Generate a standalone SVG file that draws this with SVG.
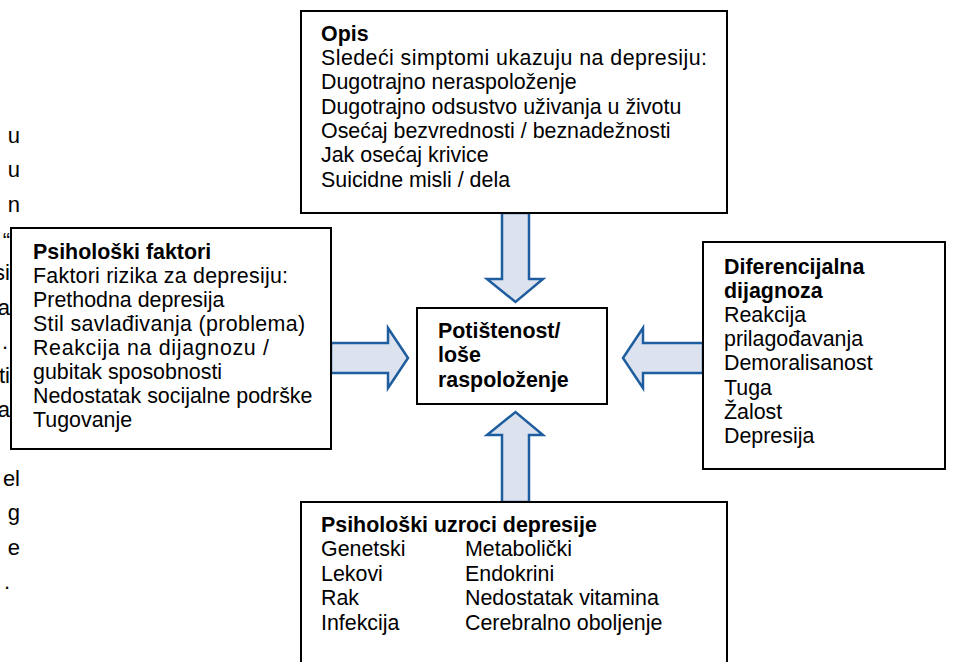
<svg xmlns="http://www.w3.org/2000/svg" width="955" height="662" viewBox="0 0 955 662">
<style>
text{font-family:"Liberation Sans",Arial,sans-serif;font-size:21.4px;fill:#000}
.b{font-weight:bold}
.f{font-size:22px}
.box{fill:#fff;stroke:#000;stroke-width:2}
.arr{fill:#dce3ef;stroke:#1f5e9e;stroke-width:2.5;stroke-linejoin:miter}
</style>
<rect width="955" height="662" fill="#fff"/>
<g id="fragments">
<text class="f" x="20" y="143" text-anchor="end">u</text>
<text class="f" x="20" y="177" text-anchor="end">u</text>
<text class="f" x="20" y="212" text-anchor="end">n</text>
<text class="f" x="10" y="248" text-anchor="end">“</text>
<text class="f" x="10" y="280" text-anchor="end">si</text>
<text class="f" x="10" y="315" text-anchor="end">a</text>
<text class="f" x="8" y="349" text-anchor="end">.</text>
<text class="f" x="10" y="383" text-anchor="end">ti</text>
<text class="f" x="10" y="417" text-anchor="end">a</text>
<text class="f" x="20" y="486" text-anchor="end">el</text>
<text class="f" x="20" y="520" text-anchor="end">g</text>
<text class="f" x="20" y="555" text-anchor="end">e</text>
<text class="f" x="10" y="589" text-anchor="end">.</text>
</g>
<g id="connectors">
<path class="arr" d="M502,213 L529,213 L529,279 L543,279 L515.5,302 L487,279 L502,279 Z"/>
<path class="arr" d="M502,502 L529,502 L529,435 L543,435 L515.5,412 L487,435 L502,435 Z"/>
<path class="arr" d="M331,343 L388,343 L388,328 L408,358 L388,388 L388,373 L331,373 Z"/>
<path class="arr" d="M703,343 L643,343 L643,328 L623,358 L643,388 L643,373 L703,373 Z"/>
</g>
<g id="opis">
<rect class="box" x="301" y="11" width="426" height="202"/>
<text class="b" x="321" y="41">Opis</text>
<text x="321" y="65" textLength="386">Sledeći simptomi ukazuju na depresiju:</text>
<text x="321" y="89">Dugotrajno neraspoloženje</text>
<text x="321" y="114">Dugotrajno odsustvo uživanja u životu</text>
<text x="321" y="138">Osećaj bezvrednosti / beznadežnosti</text>
<text x="321" y="162">Jak osećaj krivice</text>
<text x="321" y="187">Suicidne misli / dela</text>
</g>
<g id="psiholoski-faktori">
<rect class="box" x="11" y="228" width="320" height="221"/>
<text class="b" x="33" y="259">Psihološki faktori</text>
<text x="33" y="283" textLength="255">Faktori rizika za depresiju:</text>
<text x="33" y="307">Prethodna depresija</text>
<text x="33" y="331" textLength="272">Stil savlađivanja (problema)</text>
<text x="33" y="355" textLength="236">Reakcija na dijagnozu /</text>
<text x="33" y="379">gubitak sposobnosti</text>
<text x="33" y="403">Nedostatak socijalne podrške</text>
<text x="33" y="427">Tugovanje</text>
</g>
<g id="centar">
<rect class="box" x="417" y="308" width="190" height="96"/>
<text class="b" x="438" y="338">Potištenost/</text>
<text class="b" x="438" y="362">loše</text>
<text class="b" x="438" y="387">raspoloženje</text>
</g>
<g id="diferencijalna">
<rect class="box" x="703" y="242" width="242" height="227"/>
<text class="b" x="724" y="274">Diferencijalna</text>
<text class="b" x="724" y="298">dijagnoza</text>
<text x="724" y="322">Reakcija</text>
<text x="724" y="346">prilagođavanja</text>
<text x="724" y="370">Demoralisanost</text>
<text x="724" y="395">Tuga</text>
<text x="724" y="419">Žalost</text>
<text x="724" y="443">Depresija</text>
</g>
<g id="uzroci">
<rect class="box" x="301" y="502" width="426" height="175"/>
<text class="b" x="321" y="532">Psihološki uzroci depresije</text>
<text x="321" y="556">Genetski</text>
<text x="465" y="556">Metabolički</text>
<text x="321" y="581">Lekovi</text>
<text x="465" y="581">Endokrini</text>
<text x="321" y="605">Rak</text>
<text x="465" y="605">Nedostatak vitamina</text>
<text x="321" y="630">Infekcija</text>
<text x="465" y="630">Cerebralno oboljenje</text>
</g>
</svg>
